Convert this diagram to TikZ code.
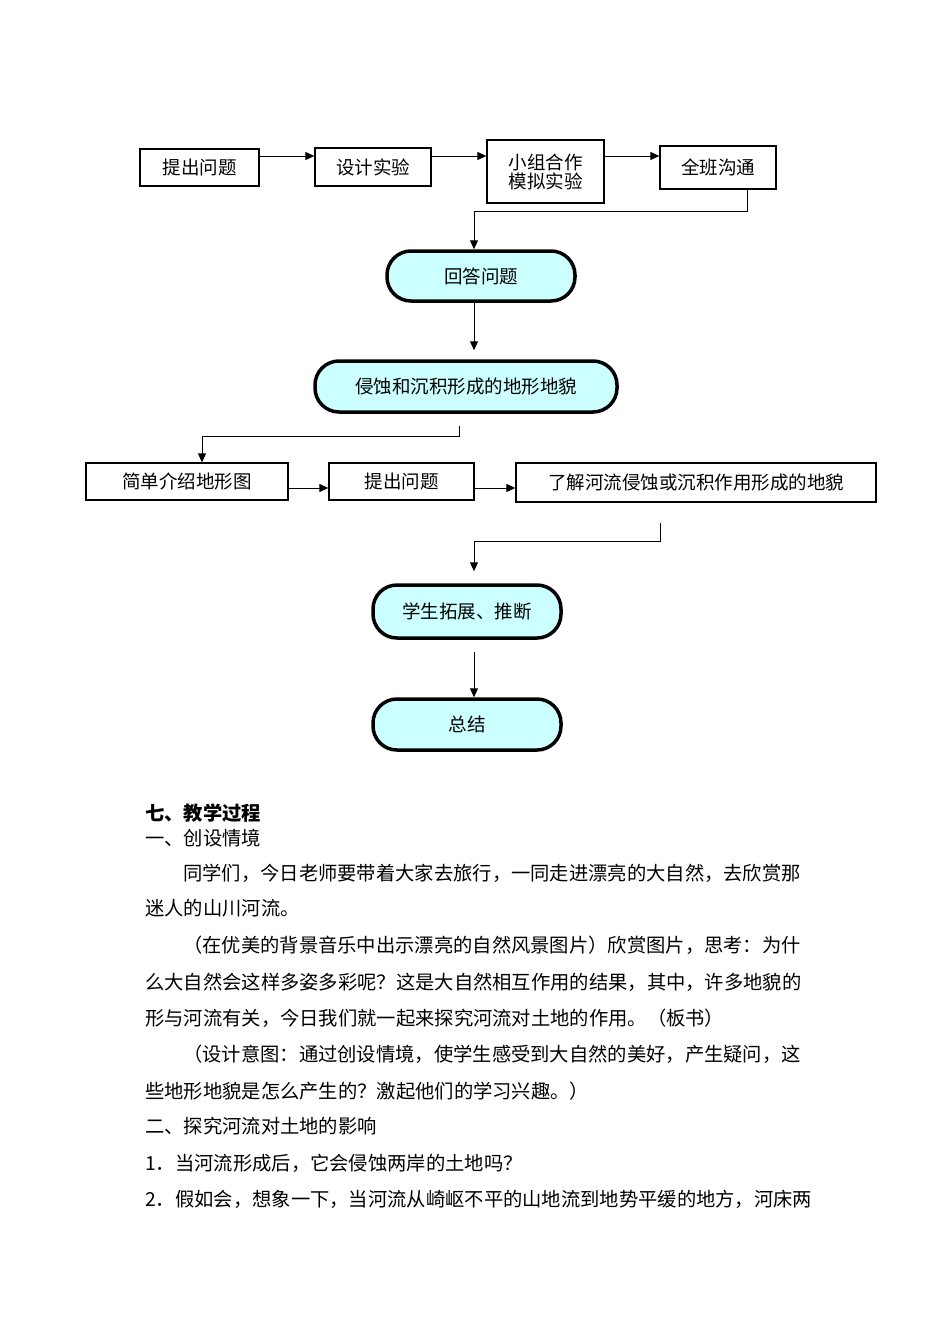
\documentclass[tikz,border=0pt]{standalone}
\usepackage{fontspec}
\setmainfont{Noto Sans CJK SC}
\usetikzlibrary{positioning, arrows.meta}
\definecolor{termfill}{RGB}{204,255,255}

\begin{document}
\begin{tikzpicture}[
  x=1pt, y=-1pt,
  >={Triangle[length=9pt,width=8pt]},
  font=\fontsize{18.5}{22}\selectfont,
  stepbox/.style={rectangle, draw, line width=1.3pt,
    inner sep=0pt, align=center},
  term/.style={rectangle, rounded corners=24pt, draw,
    line width=3.5pt, fill=termfill, inner sep=0pt},
  link/.style={->, line width=1pt},
  bodyline/.style={anchor=west, inner sep=0pt,
    font=\fontsize{19.3}{23}\selectfont}
]
\fill[white] (0,0) rectangle (950,1344);
\useasboundingbox (0,0) rectangle (950,1344);

% first row of steps
\node[stepbox, minimum width=119pt, minimum height=37pt]
  (ask) at (199.5,167.5) {提出问题};
\node[stepbox, minimum width=116pt, minimum height=38pt]
  (design) at (373,167) {设计实验};
\node[stepbox, minimum width=117pt, minimum height=63pt]
  (simul) at (545.5,171.5) {小组合作\\[-3pt]模拟实验};
\node[stepbox, minimum width=116pt, minimum height=43pt]
  (share) at (718,167.5) {全班沟通};

\coordinate (topline) at (0,156);
\draw[link] (ask.east |- topline) -- (design.west |- topline);
\draw[link] (design.east |- topline) -- (simul.west |- topline);
\draw[link] (simul.east |- topline) -- (share.west |- topline);

% rounded terminals
\node[term, minimum width=188pt, minimum height=50pt]
  (answer) at (481,276) {回答问题};
\node[term, minimum width=302pt, minimum height=51pt]
  (landform) at (466,386.5) {侵蚀和沉积形成的地形地貌};

\coordinate (bendA) at (474,211);
\draw[link] ([xshift=29pt]share.south) |- (bendA)
  -- (bendA |- answer.north);
\draw[link, shorten >=9pt] ([xshift=-7pt]answer.south)
  -- ([xshift=-7pt]answer.south |- landform.north);

% second row of steps
\node[stepbox, minimum width=202pt, minimum height=37pt]
  (intro) at (187,481.5) {简单介绍地形图};
\node[stepbox, minimum width=145pt, minimum height=37pt]
  (ask2) at (401.5,481.5) {提出问题};
\node[stepbox, minimum width=360pt, minimum height=39pt]
  (learn) at (696,482.5) {了解河流侵蚀或沉积作用形成的地貌};

\coordinate (bendB) at (202,436);
\draw[link] ([xshift=-7pt,yshift=-12pt]landform.south) |- (bendB)
  -- (bendB |- intro.north);

\coordinate (lowline) at (0,488);
\draw[link] (intro.east |- lowline) -- (ask2.west |- lowline);
\draw[link] (ask2.east |- lowline) -- (learn.west |- lowline);

\node[term, minimum width=188pt, minimum height=53pt]
  (extend) at (467,611.5) {学生拓展、推断};
\node[term, minimum width=188pt, minimum height=51pt]
  (summary) at (467,724.5) {总结};

\coordinate (bendC) at (474,541);
\draw[link, shorten >=12pt] ([xshift=-36pt,yshift=-20pt]learn.south)
  |- (bendC) -- (bendC |- extend.north);
\draw[link] ([xshift=7pt,yshift=-12pt]extend.south)
  -- ([xshift=7pt]summary.north);

% text of the page
\node[bodyline, font=\fontsize{19.3}{23}\selectfont\bfseries]
  (head) at (145,813) {七、教学过程};
\foreach \ypos/\xpos/\txt in {
  838/145/{一、创设情境},
  873/183/{同学们，今日老师要带着大家去旅行，一同走进漂亮的大自然，去欣赏那},
  908/145/{迷人的山川河流。},
  945/183/{（在优美的背景音乐中出示漂亮的自然风景图片）欣赏图片，思考：为什},
  982/145/{么大自然会这样多姿多彩呢？这是大自然相互作用的结果，其中，许多地貌的},
  1018/145/{形与河流有关，今日我们就一起来探究河流对土地的作用。（板书）},
  1054/183/{（设计意图：通过创设情境，使学生感受到大自然的美好，产生疑问，这},
  1091/145/{些地形地貌是怎么产生的？激起他们的学习兴趣。）},
  1126/145/{二、探究河流对土地的影响},
  1163/145/{1．当河流形成后，它会侵蚀两岸的土地吗？},
  1199/145/{2．假如会，想象一下，当河流从崎岖不平的山地流到地势平缓的地方，河床两}}
  \node[bodyline] at (\xpos,\ypos) {\txt};
\end{tikzpicture}
\end{document}
